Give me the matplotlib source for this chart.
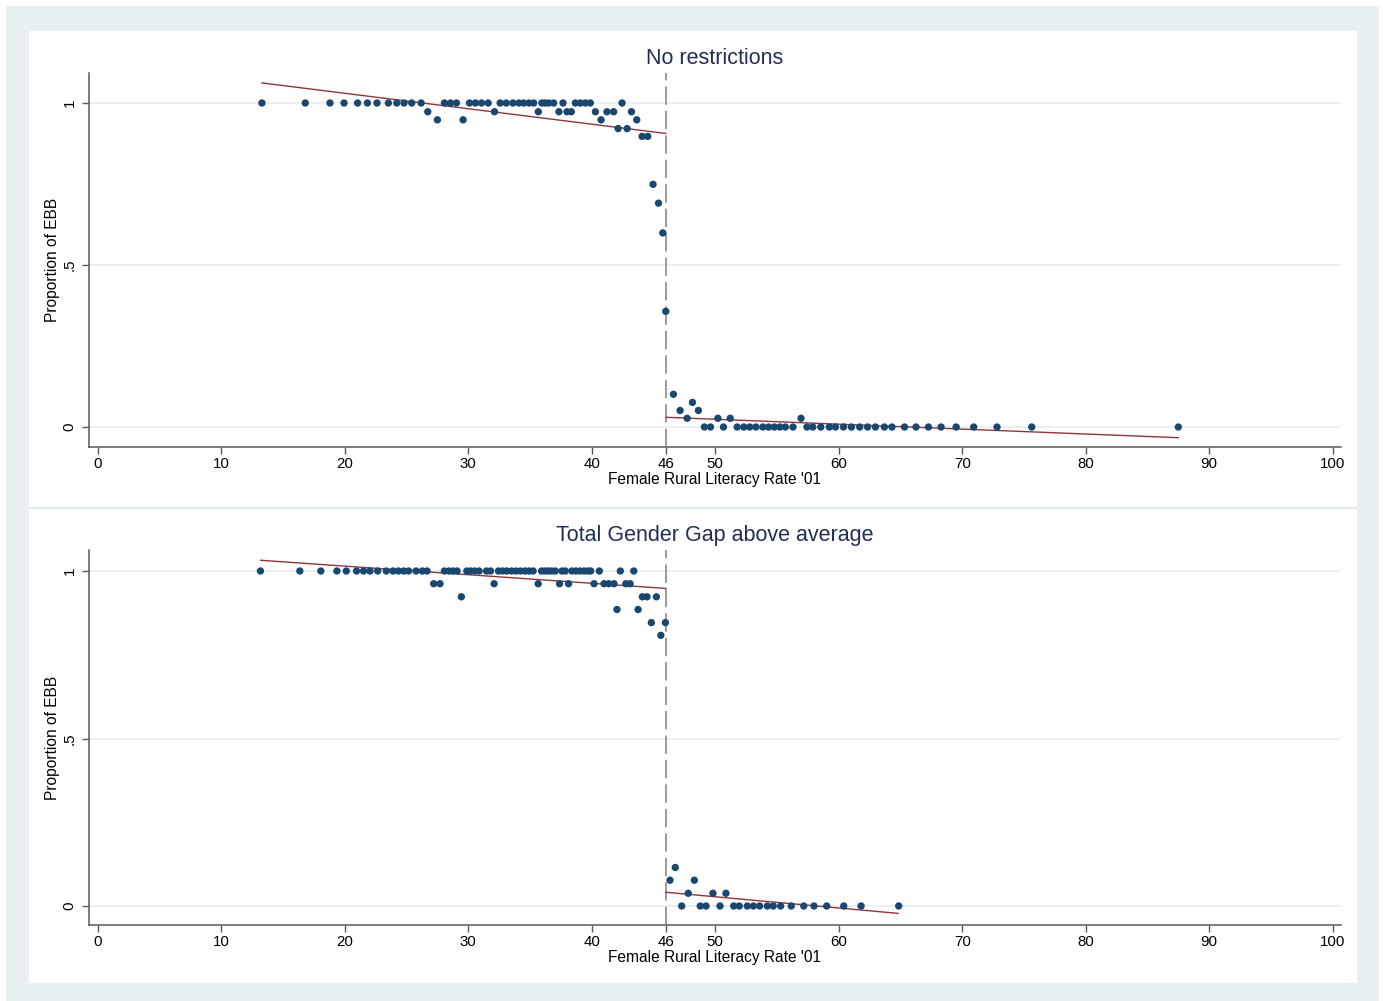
import matplotlib
matplotlib.use('Agg')
import matplotlib.pyplot as plt
from matplotlib.patches import Rectangle
from matplotlib.lines import Line2D

plt.rcParams['font.family'] = ['Liberation Sans', 'DejaVu Sans']

# --- data ------------------------------------------------------------------
cutoff = 46

# panel 1: no restrictions
x_norestr = [13.30, 16.81, 18.81, 19.95, 21.05, 21.84, 22.62, 23.54, 24.22, 24.81,
             25.43, 26.19, 26.73, 27.51, 28.08, 28.57, 29.05, 29.59, 30.11, 30.59,
             31.08, 31.62, 32.13, 32.59, 33.08, 33.62, 34.11, 34.49, 34.92, 35.30,
             35.68, 35.97, 36.24, 36.51, 36.92, 37.35, 37.68, 38.00, 38.35, 38.68,
             39.08, 39.49, 39.89, 40.30, 40.76, 41.24, 41.78, 42.14, 42.46, 42.87,
             43.22, 43.65, 44.08, 44.54, 44.97, 45.41, 45.76, 46.00,
             46.62, 47.16, 47.73, 48.16, 48.64, 49.13, 49.62, 50.22, 50.67, 51.22,
             51.78, 52.32, 52.80, 53.30, 53.86, 54.33, 54.79, 55.23, 55.68, 56.30,
             56.95, 57.43, 57.90, 58.55, 59.24, 59.74, 60.39, 61.03, 61.70, 62.34,
             62.98, 63.70, 64.31, 65.33, 66.26, 67.27, 68.29, 69.51, 70.93, 72.82,
             75.63, 87.50]
y_norestr = [1, 1, 1, 1, 1, 1, 1, 1, 1, 1,
             1, 1, 0.973, 0.948, 1, 1, 1, 0.948, 1, 1,
             1, 1, 0.973, 1, 1, 1, 1, 1, 1, 1,
             0.973, 1, 1, 1, 1, 0.973, 1, 0.973, 0.973, 1,
             1, 1, 1, 0.973, 0.948, 0.973, 0.973, 0.921, 1, 0.921,
             0.973, 0.948, 0.897, 0.897, 0.749, 0.691, 0.599, 0.357,
             0.101, 0.051, 0.027, 0.076, 0.051, 0, 0, 0.027, 0, 0.027,
             0, 0, 0, 0, 0, 0, 0, 0, 0, 0,
             0.027, 0, 0, 0, 0, 0, 0, 0, 0, 0,
             0, 0, 0, 0, 0, 0, 0, 0, 0, 0,
             0, 0]
fit_norestr_left_x = [13.3, 46]
fit_norestr_left_y = [1.062, 0.906]
fit_norestr_right_x = [46, 87.5]
fit_norestr_right_y = [0.030, -0.033]

# panel 2: total gender gap above average
x_gap = [13.18, 16.37, 18.07, 19.37, 20.13, 20.96, 21.53, 22.05, 22.67, 23.37,
         23.91, 24.35, 24.78, 25.18, 25.78, 26.29, 26.67, 27.21, 27.72, 28.08,
         28.45, 28.78, 29.10, 29.45, 29.89, 30.18, 30.51, 30.88, 31.48, 31.81,
         32.10, 32.46, 32.78, 33.11, 33.51, 33.86, 34.24, 34.62, 34.94, 35.26,
         35.67, 35.94, 36.21, 36.48, 36.75, 37.05, 37.40, 37.59, 37.86, 38.13,
         38.40, 38.73, 39.05, 39.38, 39.70, 39.92, 40.19, 40.62, 41.00, 41.38,
         41.81, 42.05, 42.32, 42.76, 43.11, 43.41, 43.76, 44.10, 44.48, 44.83,
         45.24, 45.60, 45.97,
         46.34, 46.77, 47.29, 47.82, 48.31, 48.79, 49.26, 49.82, 50.39, 50.87,
         51.50, 51.95, 52.60, 53.09, 53.60, 54.22, 54.70, 55.30, 56.16, 57.17,
         58.00, 59.03, 60.41, 61.81, 64.86]
y_gap = [1, 1, 1, 1, 1, 1, 1, 1, 1, 1,
         1, 1, 1, 1, 1, 1, 1, 0.962, 0.962, 1,
         1, 1, 1, 0.923, 1, 1, 1, 1, 1, 1,
         0.962, 1, 1, 1, 1, 1, 1, 1, 1, 1,
         0.962, 1, 1, 1, 1, 1, 0.962, 1, 1, 0.962,
         1, 1, 1, 1, 1, 1, 0.962, 1, 0.962, 0.962,
         0.962, 0.885, 1, 0.962, 0.962, 1, 0.885, 0.923, 0.923, 0.846,
         0.923, 0.808, 0.846,
         0.077, 0.115, 0, 0.038, 0.077, 0, 0, 0.038, 0, 0.038,
         0, 0, 0, 0, 0, 0, 0, 0, 0, 0,
         0, 0, 0, 0, 0]
fit_gap_left_x = [13.2, 46]
fit_gap_left_y = [1.032, 0.948]
fit_gap_right_x = [46, 64.8]
fit_gap_right_y = [0.041, -0.022]

titles = ['No restrictions', 'Total Gender Gap above average']
xlabel = "Female Rural Literacy Rate '01"
ylabel = 'Proportion of EBB'
xtick_vals = [0, 10, 20, 30, 40, 46, 50, 60, 70, 80, 90, 100]
ytick_vals = [0, 0.5, 1]
ytick_labels = ['0', '.5', '1']

# --- styling --------------------------------------------------------------
W, H = 1384, 1001
bg_col = '#e8f0f2'
grid_col = '#e6eef0'
dot_col = '#1a476f'
fit_col = '#90353b'
axis_col = '#5a5a5a'
title_col = '#1f2f55'

fig = plt.figure(figsize=(W / 100, H / 100), dpi=100)


def fx(px):
    return px / W


def fy(py):
    return 1 - py / H


# stata-ish graph region (kept under the axes)
fig.patches.append(Rectangle((fx(6), 0), fx(1379) - fx(6), fy(6), transform=fig.transFigure,
                             facecolor=bg_col, edgecolor='none', zorder=-3))
fig.patches.append(Rectangle((fx(29), fy(983)), fx(1357) - fx(29), fy(31) - fy(983),
                             transform=fig.transFigure, facecolor='white', edgecolor='none', zorder=-2))
fig.lines.append(Line2D([fx(29), fx(1357)], [fy(507.5), fy(507.5)], transform=fig.transFigure,
                        color='#e0e8ea', lw=1.2, zorder=-1))

panels = [
    dict(x=x_norestr, y=y_norestr,
         fits=[(fit_norestr_left_x, fit_norestr_left_y), (fit_norestr_right_x, fit_norestr_right_y)],
         top=73, bottom=447, ylim=(-0.0617, 1.0926), title_y=58),
    dict(x=x_gap, y=y_gap,
         fits=[(fit_gap_left_x, fit_gap_left_y), (fit_gap_right_x, fit_gap_right_y)],
         top=550, bottom=925, ylim=(-0.0567, 1.0627), title_y=535),
]

left_px, right_px = 89, 1341
for i, p in enumerate(panels):
    ax = fig.add_axes([fx(left_px), fy(p['bottom']), fx(right_px) - fx(left_px), fy(p['top']) - fy(p['bottom'])])
    ax.set_zorder(2)
    ax.set_facecolor('none')
    ax.set_xlim(-0.70, 100.67)
    ax.set_ylim(*p['ylim'])

    for yv in ytick_vals:
        ax.axhline(yv, color=grid_col, lw=1.2, zorder=1)
    ax.axvline(cutoff, color='#808080', lw=1.1, dashes=(12, 4), zorder=2)

    for fxs, fys in p['fits']:
        ax.plot(fxs, fys, color=fit_col, lw=1.0, zorder=3)
    ax.scatter(p['x'], p['y'], s=28, color=dot_col, edgecolors='none', zorder=4)

    for s in ['top', 'right']:
        ax.spines[s].set_visible(False)
    for s in ['left', 'bottom']:
        ax.spines[s].set_color(axis_col)
        ax.spines[s].set_linewidth(1.1)

    ax.set_xticks(xtick_vals)
    ax.set_xticklabels([str(v) for v in xtick_vals])
    ax.set_yticks(ytick_vals)
    ax.set_yticklabels(ytick_labels, rotation=90, va='center')
    ax.tick_params(axis='both', colors=axis_col, labelcolor='black', labelsize=10.8,
                   length=5, width=1)
    ax.tick_params(axis='x', pad=2)
    ax.tick_params(axis='y', pad=4)

    ax.set_xlabel(xlabel, fontsize=11.2, labelpad=1)
    ax.set_ylabel(ylabel, fontsize=11.2, labelpad=1.5)

    fig.text(fx(715), fy(p['title_y']), titles[i], ha='center', va='center',
             fontsize=15.5, color=title_col)

fig.savefig('out.png', dpi=100)
